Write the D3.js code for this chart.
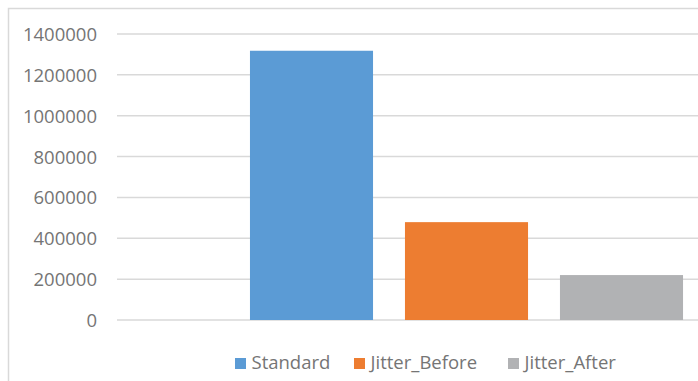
<!DOCTYPE html>
<html><head><meta charset="utf-8">
<script src="https://cdn.jsdelivr.net/npm/d3@7"></script>
<style>
html,body{margin:0;padding:0;background:#fff;overflow:hidden;}
svg{display:block;}
text{font-family:"Open Sans",sans-serif;}
</style></head>
<body>
<script>
const categories = ["", "Standard", "Jitter_Before", "Jitter_After"];
const seriesNames = ["Standard", "Jitter_Before", "Jitter_After"];
const values = [1318000, 479000, 220000];
const colors = ["#5b9bd5", "#ed7d31", "#b1b2b4"];
const yTicks = [0, 200000, 400000, 600000, 800000, 1000000, 1200000, 1400000];

const W = 698, H = 381;
const svg = d3.select("body").append("svg").attr("width", W).attr("height", H);

// chart border (clipped on right/bottom)
svg.append("rect").attr("x", 8.5).attr("y", 8.5).attr("width", W + 10).attr("height", H + 10)
  .attr("fill", "none").attr("stroke", "#d9d9d9").attr("stroke-width", 1.5);

const plotLeft = 117, plotRight = 700;
const y = d3.scaleLinear().domain([0, 1400000]).range([320, 34]);
const x = d3.scaleBand().domain(categories).range([79, 699]).paddingInner(0.206).paddingOuter(0.103);

// gridlines
svg.append("g").selectAll("line").data(yTicks).join("line")
  .attr("x1", plotLeft).attr("x2", plotRight)
  .attr("y1", d => y(d)).attr("y2", d => y(d))
  .attr("stroke", "#d9d9d9").attr("stroke-width", 1.5);

// y axis labels
const yAxis = d3.axisLeft(y).tickValues(yTicks).tickSize(0).tickPadding(0).tickFormat(d3.format("d"));
const gy = svg.append("g").attr("transform", "translate(97,0)").call(yAxis);
gy.select(".domain").remove();
gy.selectAll("text").attr("font-size", 18.5).attr("fill", "#757575")
  .attr("font-family", "Open Sans, sans-serif").attr("dy", "0.35em");

// bars
svg.append("g").selectAll("rect").data(seriesNames).join("rect")
  .attr("x", d => x(d)).attr("width", x.bandwidth())
  .attr("y", (d, i) => y(values[i])).attr("height", (d, i) => y(0) - y(values[i]))
  .attr("fill", (d, i) => colors[i]);

// legend
const legendX = [235, 354, 508];
const lg = svg.append("g").selectAll("g").data(seriesNames).join("g")
  .attr("transform", (d, i) => `translate(${legendX[i]},358)`);
lg.append("rect").attr("width", 11).attr("height", 11).attr("fill", (d, i) => colors[i]);
lg.append("text").attr("x", 16.5).attr("y", 11).attr("font-size", 18.5).attr("fill", "#757575").text(d => d);
</script>
</body></html>
